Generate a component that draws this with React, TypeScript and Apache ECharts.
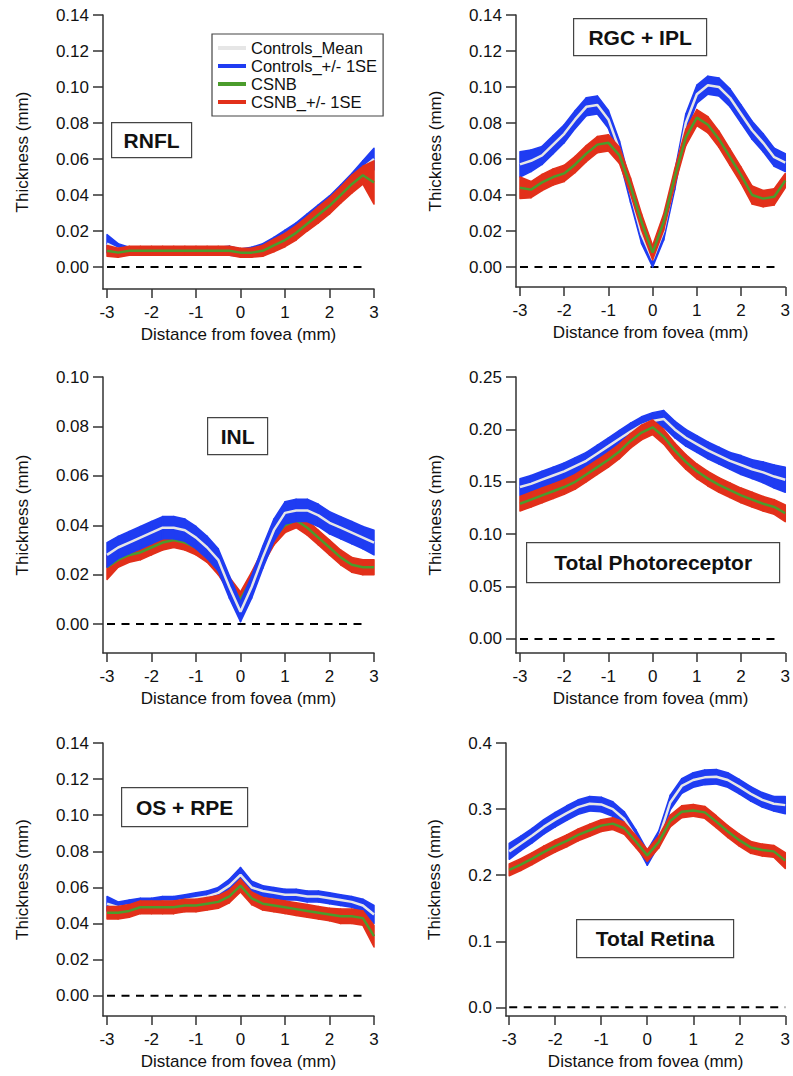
import React, { useEffect, useRef } from "react";
import * as echarts from "echarts";

// ---------- data ----------
const X = [-3, -2.75, -2.5, -2.25, -2, -1.75, -1.5, -1.25, -1, -0.75, -0.5, -0.25, 0, 0.25, 0.5, 0.75, 1, 1.25, 1.5, 1.75, 2, 2.25, 2.5, 2.75, 3];
const X_TICKS = [-3, -2, -1, 0, 1, 2, 3];

const Y_TICKS_014 = [0, 0.02, 0.04, 0.06, 0.08, 0.1, 0.12, 0.14];
const Y_TICKS_010 = [0, 0.02, 0.04, 0.06, 0.08, 0.1];
const Y_TICKS_025 = [0, 0.05, 0.1, 0.15, 0.2, 0.25];
const Y_TICKS_04 = [0, 0.1, 0.2, 0.3, 0.4];

const LEGEND_NAMES = ["Controls_Mean", "Controls_+/- 1SE", "CSNB", "CSNB_+/- 1SE"];
const PANEL_LABELS = ["RNFL", "RGC + IPL", "INL", "Total Photoreceptor", "OS + RPE", "Total Retina"];

// RNFL
const RNFL_CTRL_MEAN = [0.013, 0.010, 0.009, 0.009, 0.009, 0.009, 0.009, 0.009, 0.009, 0.009, 0.009, 0.009, 0.008, 0.009, 0.011, 0.014, 0.018, 0.022, 0.027, 0.032, 0.037, 0.043, 0.049, 0.055, 0.060];
const RNFL_CTRL_SE = [0.005, 0.003, 0.002, 0.002, 0.002, 0.002, 0.002, 0.002, 0.002, 0.002, 0.002, 0.0025, 0.002, 0.002, 0.002, 0.0025, 0.0025, 0.0025, 0.0025, 0.0025, 0.0025, 0.0025, 0.003, 0.004, 0.006];
const RNFL_CSNB_MEAN = [0.009, 0.008, 0.009, 0.009, 0.009, 0.009, 0.009, 0.009, 0.009, 0.009, 0.009, 0.009, 0.008, 0.008, 0.009, 0.012, 0.015, 0.019, 0.024, 0.029, 0.034, 0.040, 0.046, 0.051, 0.047];
const RNFL_CSNB_SE = [0.003, 0.0025, 0.0025, 0.0025, 0.0025, 0.0025, 0.0025, 0.0025, 0.0025, 0.0025, 0.0025, 0.0025, 0.0025, 0.0025, 0.003, 0.0035, 0.0037, 0.004, 0.004, 0.0045, 0.0045, 0.0045, 0.005, 0.005, 0.012];

// RGC + IPL
const RGC_CTRL_MEAN = [0.057, 0.059, 0.062, 0.068, 0.074, 0.082, 0.089, 0.090, 0.082, 0.065, 0.041, 0.018, 0.004, 0.020, 0.048, 0.080, 0.096, 0.101, 0.100, 0.094, 0.085, 0.076, 0.069, 0.061, 0.058];
const RGC_CTRL_SE = [0.007, 0.006, 0.005, 0.005, 0.005, 0.005, 0.005, 0.005, 0.005, 0.005, 0.005, 0.005, 0.004, 0.005, 0.005, 0.005, 0.005, 0.005, 0.005, 0.005, 0.005, 0.005, 0.005, 0.005, 0.005];
const RGC_CSNB_MEAN = [0.044, 0.043, 0.047, 0.050, 0.052, 0.057, 0.063, 0.068, 0.069, 0.062, 0.045, 0.025, 0.008, 0.025, 0.050, 0.072, 0.083, 0.079, 0.071, 0.061, 0.051, 0.040, 0.038, 0.039, 0.048];
const RGC_CSNB_SE = [0.006, 0.0045, 0.0045, 0.0045, 0.0045, 0.0045, 0.0045, 0.0045, 0.0045, 0.0045, 0.0045, 0.0045, 0.004, 0.0045, 0.0045, 0.0045, 0.0045, 0.0045, 0.0045, 0.0045, 0.0045, 0.005, 0.0045, 0.0045, 0.004];

// INL
const INL_CTRL_MEAN = [0.028, 0.031, 0.033, 0.035, 0.037, 0.039, 0.039, 0.038, 0.035, 0.031, 0.026, 0.015, 0.005, 0.015, 0.027, 0.038, 0.045, 0.046, 0.046, 0.044, 0.041, 0.039, 0.037, 0.035, 0.033];
const INL_CTRL_SE = [0.005, 0.0045, 0.0045, 0.0045, 0.0045, 0.0045, 0.0045, 0.0045, 0.0045, 0.0045, 0.0045, 0.0045, 0.004, 0.0045, 0.0045, 0.0045, 0.0045, 0.0045, 0.0045, 0.0045, 0.0045, 0.0045, 0.0045, 0.0045, 0.005];
const INL_CSNB_MEAN = [0.023, 0.026, 0.028, 0.029, 0.031, 0.033, 0.034, 0.033, 0.031, 0.028, 0.023, 0.016, 0.010, 0.018, 0.027, 0.035, 0.040, 0.042, 0.039, 0.035, 0.031, 0.027, 0.024, 0.023, 0.023];
const INL_CSNB_SE = [0.005, 0.003, 0.003, 0.003, 0.003, 0.003, 0.003, 0.003, 0.003, 0.003, 0.003, 0.003, 0.003, 0.003, 0.003, 0.003, 0.003, 0.003, 0.003, 0.003, 0.003, 0.003, 0.003, 0.003, 0.003];

// Total Photoreceptor
const TP_CTRL_MEAN = [0.145, 0.148, 0.152, 0.156, 0.160, 0.165, 0.170, 0.177, 0.184, 0.191, 0.198, 0.204, 0.208, 0.210, 0.200, 0.192, 0.186, 0.180, 0.175, 0.170, 0.166, 0.162, 0.159, 0.155, 0.152];
const TP_CTRL_SE = [0.008, 0.008, 0.008, 0.008, 0.008, 0.008, 0.008, 0.008, 0.008, 0.008, 0.008, 0.008, 0.008, 0.008, 0.008, 0.008, 0.008, 0.008, 0.008, 0.008, 0.009, 0.009, 0.010, 0.011, 0.012];
const TP_CSNB_MEAN = [0.129, 0.133, 0.137, 0.141, 0.145, 0.150, 0.157, 0.164, 0.171, 0.179, 0.189, 0.197, 0.202, 0.193, 0.180, 0.169, 0.160, 0.153, 0.147, 0.142, 0.137, 0.133, 0.129, 0.126, 0.120];
const TP_CSNB_SE = [0.007, 0.007, 0.007, 0.007, 0.007, 0.007, 0.007, 0.007, 0.007, 0.007, 0.007, 0.007, 0.007, 0.007, 0.007, 0.007, 0.007, 0.007, 0.007, 0.007, 0.007, 0.007, 0.007, 0.007, 0.008];

// OS + RPE
const OS_CTRL_MEAN = [0.051, 0.049, 0.050, 0.051, 0.051, 0.052, 0.052, 0.053, 0.054, 0.055, 0.057, 0.061, 0.067, 0.060, 0.058, 0.057, 0.056, 0.056, 0.055, 0.055, 0.054, 0.053, 0.052, 0.050, 0.045];
const OS_CTRL_SE = [0.004, 0.003, 0.003, 0.003, 0.003, 0.003, 0.003, 0.003, 0.003, 0.003, 0.003, 0.0035, 0.004, 0.0035, 0.003, 0.003, 0.003, 0.003, 0.003, 0.003, 0.003, 0.003, 0.003, 0.0035, 0.005];
const OS_CSNB_MEAN = [0.046, 0.046, 0.047, 0.049, 0.049, 0.049, 0.049, 0.050, 0.050, 0.051, 0.052, 0.055, 0.061, 0.054, 0.051, 0.050, 0.049, 0.048, 0.047, 0.046, 0.045, 0.044, 0.044, 0.043, 0.033];
const OS_CSNB_SE = [0.0035, 0.0035, 0.0035, 0.0035, 0.0035, 0.0035, 0.0035, 0.0035, 0.0035, 0.0035, 0.0035, 0.0035, 0.0035, 0.0035, 0.0035, 0.0035, 0.0035, 0.0035, 0.0035, 0.0035, 0.0035, 0.004, 0.004, 0.004, 0.006];

// Total Retina
const TR_CTRL_MEAN = [0.236, 0.248, 0.260, 0.273, 0.284, 0.294, 0.303, 0.308, 0.307, 0.300, 0.285, 0.258, 0.226, 0.256, 0.310, 0.335, 0.344, 0.348, 0.349, 0.344, 0.334, 0.323, 0.314, 0.308, 0.306];
const TR_CTRL_SE = [0.012, 0.011, 0.011, 0.011, 0.011, 0.011, 0.011, 0.011, 0.011, 0.011, 0.011, 0.011, 0.011, 0.011, 0.011, 0.011, 0.011, 0.011, 0.011, 0.011, 0.011, 0.011, 0.011, 0.011, 0.013];
const TR_CSNB_MEAN = [0.208, 0.216, 0.225, 0.235, 0.244, 0.252, 0.261, 0.268, 0.275, 0.278, 0.271, 0.251, 0.230, 0.250, 0.282, 0.296, 0.298, 0.295, 0.281, 0.266, 0.253, 0.242, 0.238, 0.236, 0.222];
const TR_CSNB_SE = [0.009, 0.009, 0.009, 0.009, 0.009, 0.009, 0.009, 0.009, 0.009, 0.009, 0.009, 0.009, 0.009, 0.009, 0.009, 0.009, 0.009, 0.009, 0.009, 0.009, 0.009, 0.009, 0.009, 0.009, 0.012];

// end of the dashed zero reference line (x, mm) for each panel
const ZERO_LINE_END = [2.85, 2.82, 2.85, 2.82, 2.85, 3.0];
// drawing order: in the INL panel the control traces sit on top of the CSNB traces
const CTRL_ON_TOP = [false, false, true, false, false, false];

// ---------- layout / style ----------
const FONT = "'Liberation Sans', Arial, Helvetica, sans-serif";
const BLUE = "#1f3cf2";
const RED = "#e2301a";
const GREEN = "#4b9c2c";
const MEAN_GRAY = "#e6e6e6";
const AXIS = "#333";

const PANEL_DATA = [
  [RNFL_CTRL_MEAN, RNFL_CTRL_SE, RNFL_CSNB_MEAN, RNFL_CSNB_SE],
  [RGC_CTRL_MEAN, RGC_CTRL_SE, RGC_CSNB_MEAN, RGC_CSNB_SE],
  [INL_CTRL_MEAN, INL_CTRL_SE, INL_CSNB_MEAN, INL_CSNB_SE],
  [TP_CTRL_MEAN, TP_CTRL_SE, TP_CSNB_MEAN, TP_CSNB_SE],
  [OS_CTRL_MEAN, OS_CTRL_SE, OS_CSNB_MEAN, OS_CSNB_SE],
  [TR_CTRL_MEAN, TR_CTRL_SE, TR_CSNB_MEAN, TR_CSNB_SE],
];

const LAYOUT = [
  { left: 103, top: 15, width: 271, height: 274, xMin: -3.09, yMin: -0.0122, yMax: 0.14, ticks: Y_TICKS_014, dec: 2, yGap: 72, box: [111, 122, 80, 35] },
  { left: 516, top: 15, width: 271, height: 272, xMin: -3.09, yMin: -0.0111, yMax: 0.14, ticks: Y_TICKS_014, dec: 2, yGap: 72, box: [573, 18, 133, 37] },
  { left: 103, top: 377, width: 271, height: 276, xMin: -3.09, yMin: -0.0117, yMax: 0.1, ticks: Y_TICKS_010, dec: 2, yGap: 72, box: [207, 417, 60, 37] },
  { left: 516, top: 377, width: 271, height: 276, xMin: -3.09, yMin: -0.0134, yMax: 0.25, ticks: Y_TICKS_025, dec: 2, yGap: 72, box: [526, 542, 253, 40] },
  { left: 103, top: 743, width: 271, height: 273, xMin: -3.09, yMin: -0.0112, yMax: 0.14, ticks: Y_TICKS_014, dec: 2, yGap: 72, box: [121, 787, 126, 39] },
  { left: 506, top: 743, width: 281, height: 273, xMin: -3.07, yMin: -0.0131, yMax: 0.4, ticks: Y_TICKS_04, dec: 1, yGap: 63, box: [576, 919, 157, 38] },
];

// +/- 1SE band as a custom series: each item is one segment [x0, lo0, hi0, x1, lo1, hi1]
function bandSeries(idx: number, name: string, mean: number[], se: number[], color: string, z: number) {
  const data: number[][] = [];
  for (let i = 0; i < X.length - 1; i++) {
    data.push([X[i], mean[i] - se[i], mean[i] + se[i], X[i + 1], mean[i + 1] - se[i + 1], mean[i + 1] + se[i + 1]]);
  }
  return {
    type: "custom", name, xAxisIndex: idx, yAxisIndex: idx, data, z,
    encode: { x: [0, 3], y: [1, 2, 4, 5] },
    color, itemStyle: { color },
    renderItem: (_params: any, api: any) => {
      const x0 = api.value(0), l0 = api.value(1), h0 = api.value(2);
      const x1 = api.value(3), l1 = api.value(4), h1 = api.value(5);
      const pts = [api.coord([x0, l0]), api.coord([x1, l1]), api.coord([x1, h1]), api.coord([x0, h0])];
      return {
        type: "polygon",
        shape: { points: pts },
        style: { fill: color, stroke: color, lineWidth: 1.5, lineJoin: "round" },
      };
    },
  };
}

function meanSeries(idx: number, name: string, mean: number[], color: string, z: number) {
  return {
    type: "line", name, xAxisIndex: idx, yAxisIndex: idx, z, data: X.map((x, k) => [x, mean[k]]),
    symbol: "none", color, itemStyle: { color }, lineStyle: { color, width: 2.5 },
  };
}

function buildOption() {
  const grid: any[] = [];
  const xAxis: any[] = [];
  const yAxis: any[] = [];
  const series: any[] = [];
  const graphic: any[] = [];

  LAYOUT.forEach((L, i) => {
    grid.push({ left: L.left, top: L.top, width: L.width, height: L.height, containLabel: false });
    xAxis.push({
      gridIndex: i, type: "value", min: L.xMin, max: 3,
      axisLine: { show: true, onZero: false, lineStyle: { color: AXIS, width: 1.5 } },
      axisTick: { show: true, length: 9, customValues: X_TICKS, lineStyle: { color: AXIS, width: 1.5 } },
      axisLabel: { customValues: X_TICKS, formatter: (v: number) => String(v), fontSize: 17, color: "#111", fontFamily: FONT, margin: 15 },
      splitLine: { show: false },
      name: "Distance from fovea (mm)", nameLocation: "middle", nameGap: 37,
      nameTextStyle: { fontSize: 17, color: "#111", fontFamily: FONT },
    });
    yAxis.push({
      gridIndex: i, type: "value", min: L.yMin, max: L.yMax,
      axisLine: { show: true, onZero: false, lineStyle: { color: AXIS, width: 1.5 } },
      axisTick: { show: true, length: 10, customValues: L.ticks, lineStyle: { color: AXIS, width: 1.5 } },
      axisLabel: { customValues: L.ticks, formatter: (v: number) => v.toFixed(L.dec), fontSize: 17, color: "#111", fontFamily: FONT, margin: 14 },
      splitLine: { show: false },
      name: "Thickness (mm)", nameLocation: "middle", nameGap: L.yGap, nameRotate: 90,
      nameTextStyle: { fontSize: 17, color: "#111", fontFamily: FONT },
    });

    const [cMean, cSe, sMean, sSe] = PANEL_DATA[i];
    const ctrlZ = CTRL_ON_TOP[i] ? 6 : 2;
    const csnbZ = CTRL_ON_TOP[i] ? 2 : 6;
    series.push({
      type: "line", name: "zero" + i, xAxisIndex: i, yAxisIndex: i, z: 1, data: [[-3, 0], [ZERO_LINE_END[i], 0]],
      symbol: "none", silent: true, lineStyle: { color: "#000", width: 2, type: [8, 6.5] },
    });
    series.push(bandSeries(i, LEGEND_NAMES[1], cMean, cSe, BLUE, ctrlZ));
    series.push(meanSeries(i, LEGEND_NAMES[0], cMean, MEAN_GRAY, ctrlZ + 1));
    series.push(bandSeries(i, LEGEND_NAMES[3], sMean, sSe, RED, csnbZ));
    series.push(meanSeries(i, LEGEND_NAMES[2], sMean, GREEN, csnbZ + 1));

    const [bx, by, bw, bh] = L.box;
    graphic.push({
      type: "group", left: bx, top: by, z: 100,
      children: [
        { type: "rect", z: 100, shape: { x: 0, y: 0, width: bw, height: bh }, style: { fill: "#fff", stroke: "#444", lineWidth: 1.2 } },
        {
          type: "text", z: 101, x: bw / 2, y: bh / 2,
          style: { text: PANEL_LABELS[i], fontSize: 21, fontWeight: "bold", fontFamily: FONT, fill: "#111", align: "center", verticalAlign: "middle" },
        },
      ],
    });
  });

  return {
    animation: false,
    backgroundColor: "#fff",
    textStyle: { fontFamily: FONT },
    grid, xAxis, yAxis, series, graphic,
    legend: {
      data: LEGEND_NAMES,
      orient: "vertical", left: 212, top: 34,
      padding: [5, 6, 5, 6], itemGap: 0, itemWidth: 28, itemHeight: 4, icon: "rect",
      borderColor: "#444", borderWidth: 1.2, backgroundColor: "#fff",
      selectedMode: false,
      textStyle: { fontSize: 16.5, color: "#111", fontFamily: FONT, lineHeight: 18 },
    },
  };
}

export default function App() {
  const ref = useRef<HTMLDivElement>(null);
  useEffect(() => {
    if (!ref.current) return;
    const chart = echarts.init(ref.current, null, { renderer: "svg" });
    chart.setOption(buildOption() as any);
    return () => chart.dispose();
  }, []);
  return <div ref={ref} style={{ position: "fixed", left: 0, top: 0, width: 793, height: 1076, background: "#fff" }} />;
}
